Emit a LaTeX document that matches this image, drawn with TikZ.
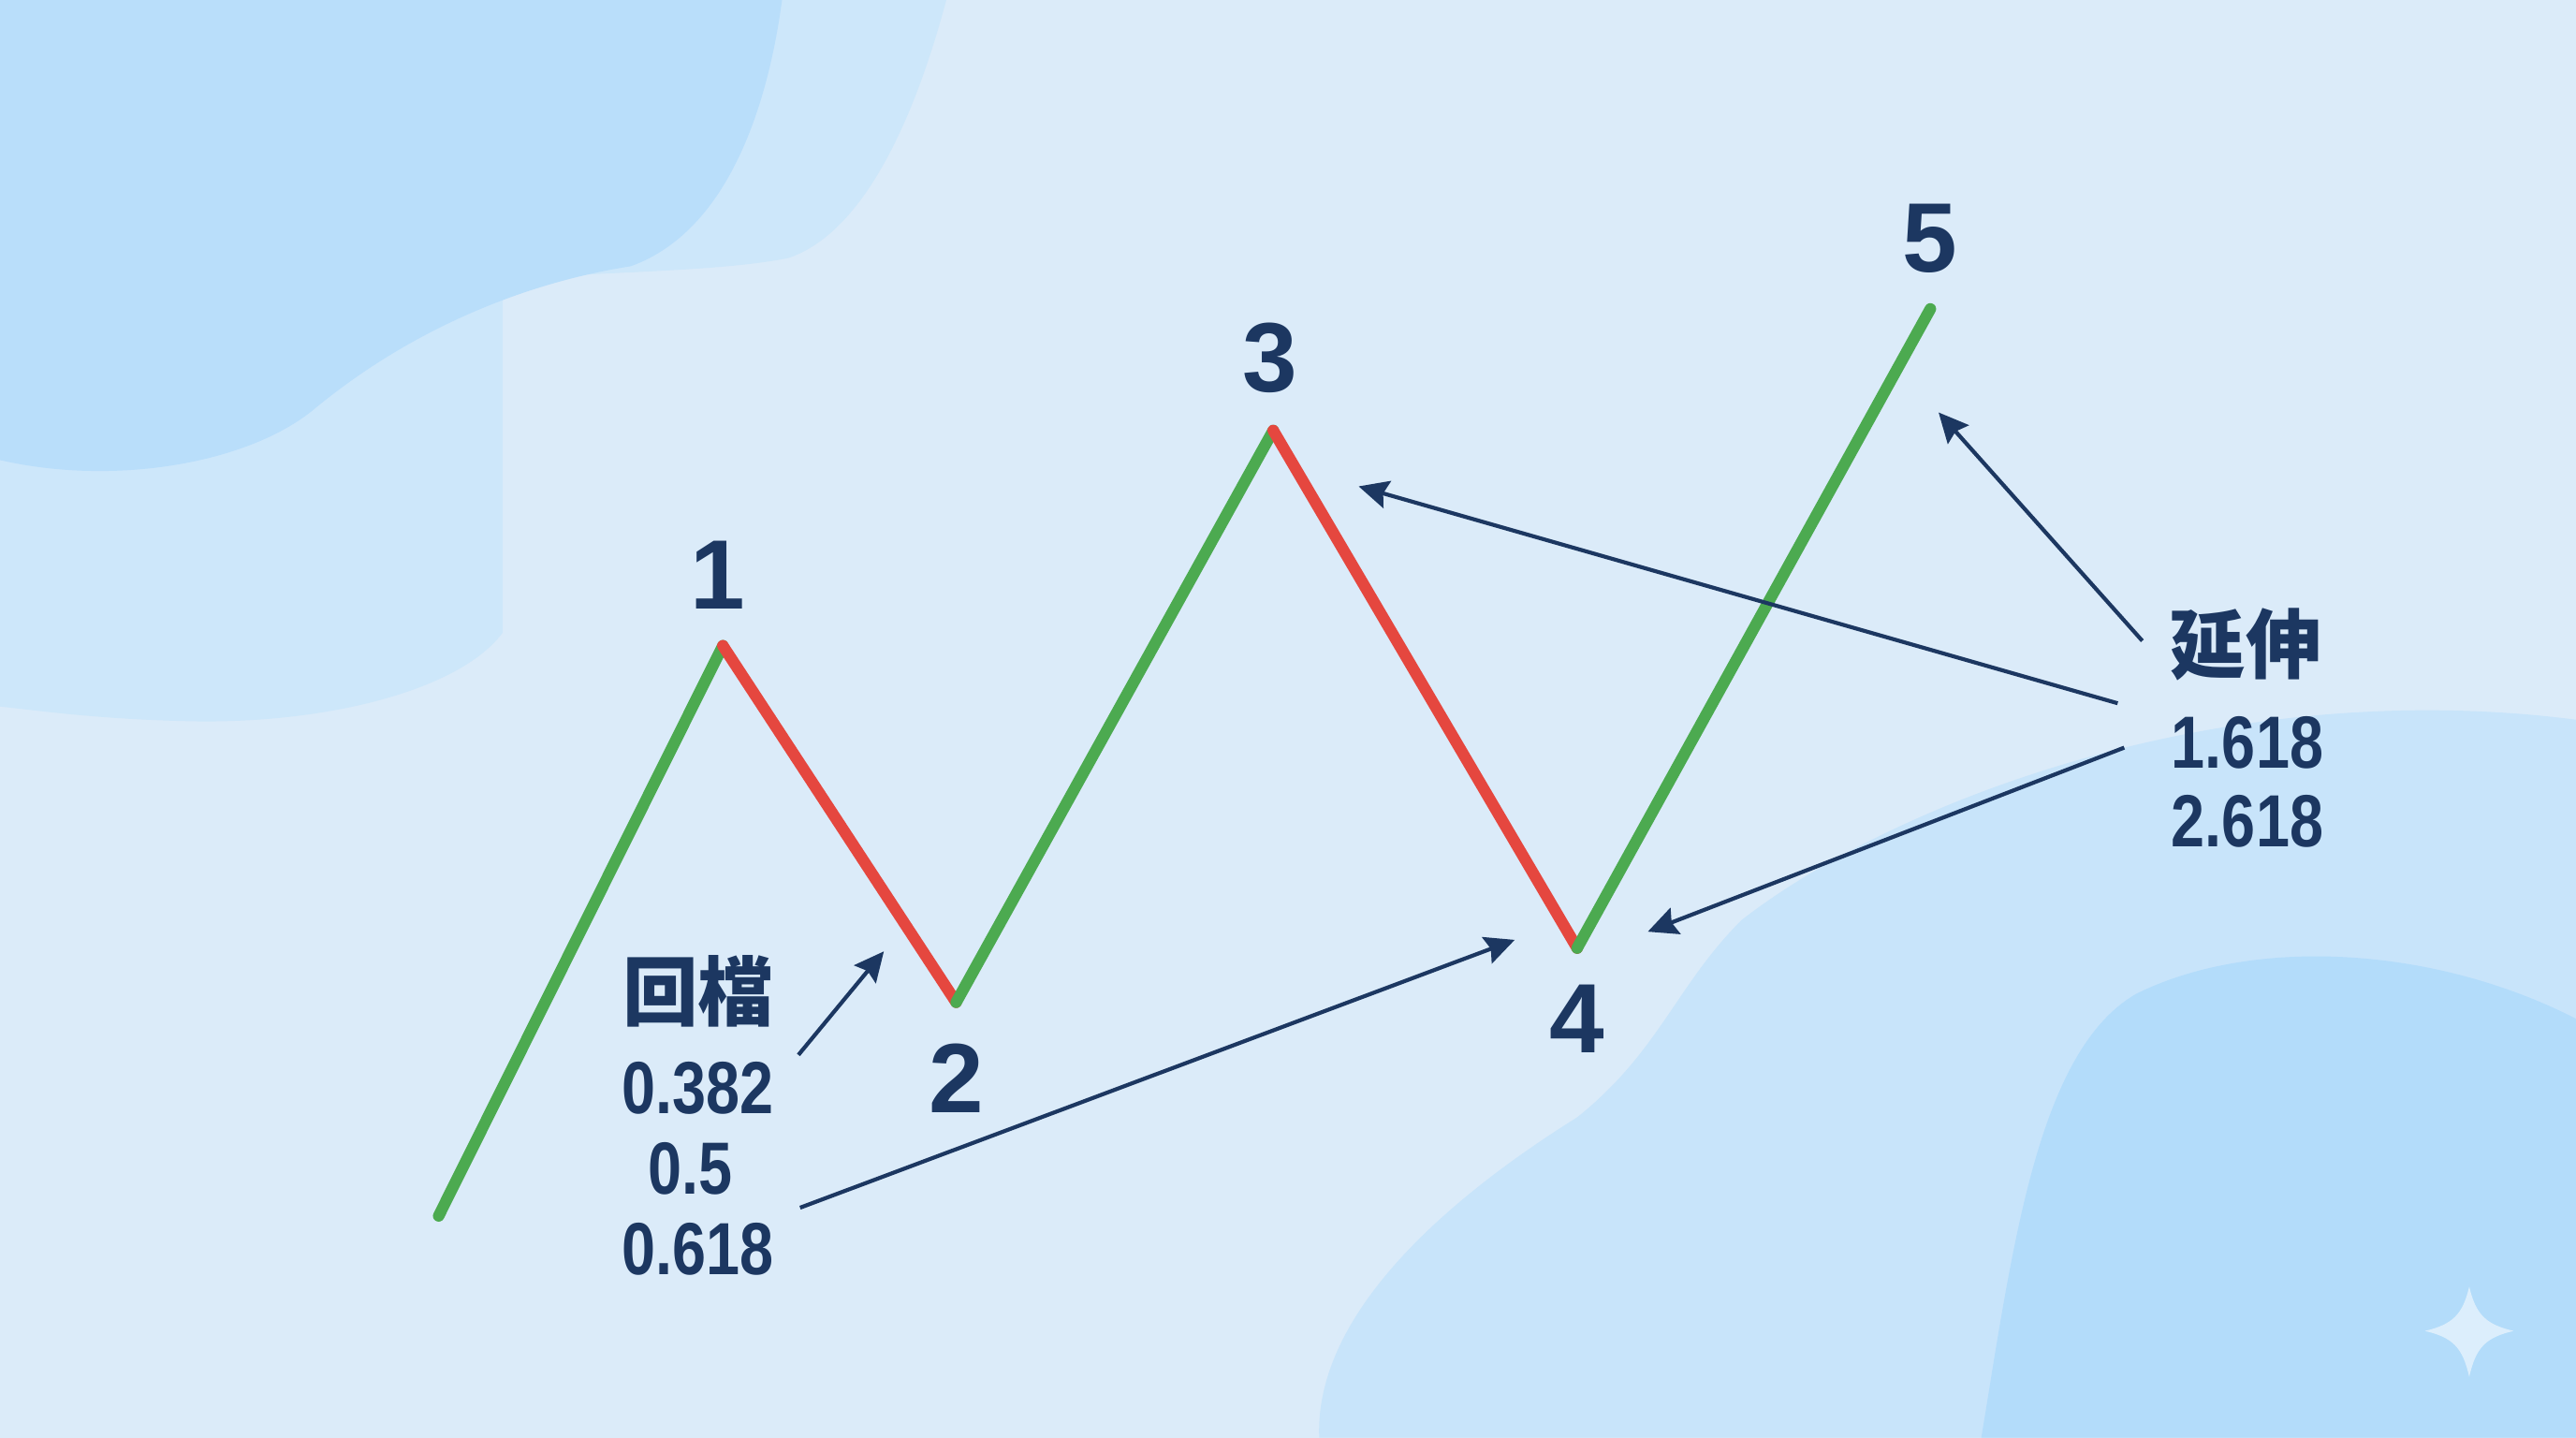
\documentclass[tikz,border=0pt]{standalone}
\usepackage{fontspec}
\setmainfont{Liberation Sans}
\newfontfamily\numfont[FakeStretch=0.82]{Liberation Sans}
\newfontfamily\cjk{Noto Sans CJK TC}
\usetikzlibrary{arrows.meta}
\definecolor{bg}{HTML}{DBEBF9}
\definecolor{blobA}{HTML}{B9DEFA}
\definecolor{blobB}{HTML}{CDE7FA}
\definecolor{blobC}{HTML}{C8E4FA}
\definecolor{blobD}{HTML}{B3DCFA}
\definecolor{starc}{HTML}{DCEEFC}
\definecolor{navy}{HTML}{1C3761}
\definecolor{wgreen}{HTML}{4CAA50}
\definecolor{wred}{HTML}{E5473F}
\tikzset{
  up/.style={draw=wgreen,line width=7pt,line cap=round},
  down/.style={draw=wred,line width=7pt,line cap=round},
  wavelabel/.style={inner sep=0pt,text=navy,font=\bfseries\fontsize{60}{62}\selectfont},
  fiblabel/.style={inner sep=0pt,text=navy,font=\numfont\bfseries\fontsize{45}{47}\selectfont},
  cjklabel/.style={inner sep=0pt,text=navy,font=\cjk\bfseries\fontsize{46}{48}\selectfont},
  pointer/.style={draw=navy,line width=2.4pt,-{Stealth[length=18pt,width=17pt,inset=2.5pt]}}
}
\begin{document}
\begin{tikzpicture}[x=1pt,y=-1pt]
\fill[bg] (0,0) rectangle (1568,875);
\useasboundingbox (0,0) rectangle (1568,875);
% background blobs
\fill[blobB] (0,0) -- (576,0) .. controls (560,60) and (530,140) .. (480,157) .. controls (440,165) and (380,165) .. (306,170) -- (306,385) .. controls (280,420) and (200,440) .. (120,439) .. controls (60,438) and (20,432) .. (0,430) -- cycle;
\fill[blobA] (0,0) -- (476,0) .. controls (468,60) and (445,140) .. (384,162) .. controls (320,172) and (250,200) .. (190,250) .. controls (150,282) and (70,296) .. (0,280) -- cycle;
\fill[blobC] (803,875) .. controls (800,800) and (880,730) .. (960,680) .. controls (1010,640) and (1020,600) .. (1060,560) .. controls (1150,490) and (1350,410) .. (1568,438) -- (1568,875) -- cycle;
\fill[blobD] (1206,875) .. controls (1225,760) and (1240,640) .. (1300,605) .. controls (1370,570) and (1480,575) .. (1568,620) -- (1568,875) -- cycle;
% sparkle
\fill[starc] (1503,783) .. controls (1507,800) and (1513,806) .. (1530,810) .. controls (1513,814) and (1507,820) .. (1503,838) .. controls (1499,820) and (1493,814) .. (1476,810) .. controls (1493,806) and (1499,800) .. (1503,783) -- cycle;
% wave points
\coordinate (p0) at (267,740);
\coordinate (p1) at (440,393);
\coordinate (p2) at (582,610);
\coordinate (p3) at (775,262);
\coordinate (p4) at (960,577);
\coordinate (p5) at (1175,188);
\draw[up] (p0) -- (p1);
\draw[down] (p1) -- (p2);
\draw[up] (p2) -- (p3);
\draw[down] (p3) -- (p4);
\draw[up] (p4) -- (p5);
% wave labels
\node[wavelabel] (l1) at (437,350) {1};
\node[wavelabel] (l2) at (582,656) {2};
\node[wavelabel] (l3) at (773,218) {3};
\node[wavelabel] (l4) at (960,620) {4};
\node[wavelabel] (l5) at (1175,145) {5};
% retracement text
\node[cjklabel] (ret) at (425,603) {回檔};
\node[fiblabel] (r1) at (425,662) {0.382};
\node[fiblabel] (r2) at (420,711) {0.5};
\node[fiblabel] (r3) at (425,760) {0.618};
% extension text
\node[cjklabel] (ext) at (1367,392) {延伸};
\node[fiblabel] (e1) at (1368,452) {1.618};
\node[fiblabel] (e2) at (1368,500) {2.618};
% arrow endpoints
\coordinate (a1s) at (486,642);
\coordinate (a1e) at (538,579);
\coordinate (a2s) at (487,735);
\coordinate (a2e) at (922,572);
\coordinate (a3s) at (1304,390);
\coordinate (a3e) at (1180,251);
\coordinate (a4s) at (1289,428);
\coordinate (a4e) at (827,296);
\coordinate (a5s) at (1293,455);
\coordinate (a5e) at (1003,567);
\draw[pointer] (a1s) -- (a1e);
\draw[pointer] (a2s) -- (a2e);
\draw[pointer] (a3s) -- (a3e);
\draw[pointer] (a4s) -- (a4e);
\draw[pointer] (a5s) -- (a5e);
\end{tikzpicture}
\end{document}
